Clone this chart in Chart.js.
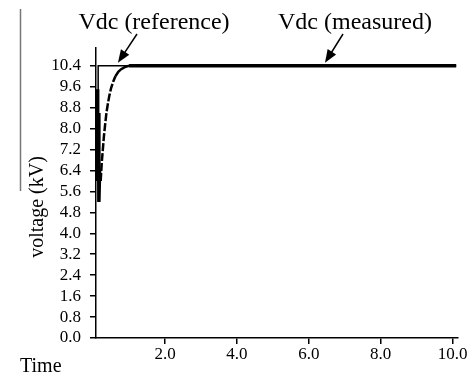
<!DOCTYPE html>
<html>
<head>
<meta charset="utf-8">
<script src="https://cdn.jsdelivr.net/npm/chart.js@4/dist/chart.umd.min.js"></script>
<style>
  body { margin: 0; background: #fff; }
  canvas { display: block; }
</style>
</head>
<body>
<canvas id="vdcChart" width="475" height="377"></canvas>
<script>
// Vdc reference step and measured response (kV vs time)
const refTime = [0.14, 0.14, 10.1];
const refVolt = [9.4, 10.4, 10.4];

const measTime = [0.12, 0.12, 0.13, 0.13, 0.15, 0.16, 0.18, 0.21, 0.24, 0.27, 0.30, 0.33, 0.37, 0.41, 0.45, 0.50, 0.56, 0.62, 0.70, 0.78, 0.88, 1.0, 10.1];
const measVolt = [9.5, 6.0, 9.2, 6.2, 8.6, 5.2, 6.4, 6.0, 6.7, 7.2, 7.7, 8.1, 8.6, 8.95, 9.25, 9.55, 9.8, 10.0, 10.17, 10.27, 10.35, 10.4, 10.4];

const yTicks = [0.0, 0.8, 1.6, 2.4, 3.2, 4.0, 4.8, 5.6, 6.4, 7.2, 8.0, 8.8, 9.6, 10.4];
const xTicks = [2.0, 4.0, 6.0, 8.0, 10.0];

const serif = 'Liberation Serif';

const toPoints = (xs, ys) => xs.map((x, i) => ({ x: x, y: ys[i] }));

function arrow(c, x1, y1, x2, y2) {
  const a = Math.atan2(y2 - y1, x2 - x1);
  const len = 13, half = 5;
  c.beginPath();
  c.moveTo(x1, y1);
  c.lineTo(x2 - Math.cos(a) * len * 0.8, y2 - Math.sin(a) * len * 0.8);
  c.stroke();
  c.beginPath();
  c.moveTo(x2, y2);
  c.lineTo(x2 - Math.cos(a) * len + Math.sin(a) * half, y2 - Math.sin(a) * len - Math.cos(a) * half);
  c.lineTo(x2 - Math.cos(a) * len - Math.sin(a) * half, y2 - Math.sin(a) * len + Math.cos(a) * half);
  c.closePath();
  c.fill();
}

const labels = {
  id: 'labels',
  afterDraw(chart) {
    const c = chart.ctx;
    const xs = chart.scales.x, ys = chart.scales.y;
    c.save();
    c.fillStyle = '#000';

    // stray rule at far left
    c.strokeStyle = '#777';
    c.lineWidth = 1.5;
    c.beginPath();
    c.moveTo(20.5, 9);
    c.lineTo(20.5, 191);
    c.stroke();

    c.strokeStyle = '#000';
    c.font = '20px "' + serif + '"';
    c.textAlign = 'left';
    c.textBaseline = 'alphabetic';
    c.fillText('Time', 20, 372);

    c.save();
    c.translate(38, 207);
    c.rotate(-Math.PI / 2);
    c.textAlign = 'center';
    c.textBaseline = 'middle';
    c.fillText('voltage (kV)', 0, 0);
    c.restore();

    c.font = '24px "' + serif + '"';
    c.textAlign = 'center';
    c.fillText('Vdc (reference)', 154, 29);
    c.fillText('Vdc (measured)', 355, 29);

    c.lineWidth = 1.5;
    const tipY = ys.getPixelForValue(10.4) - 3;
    arrow(c, 137, 34, xs.getPixelForValue(0.69), tipY);
    arrow(c, 343, 34, xs.getPixelForValue(6.45), tipY);
    c.restore();
  }
};

new Chart(document.getElementById('vdcChart'), {
  type: 'line',
  data: {
    datasets: [{
      label: 'Vdc (reference)',
      data: toPoints(refTime, refVolt),
      borderColor: '#000',
      borderWidth: 1.5,
      pointRadius: 0,
      tension: 0,
      fill: false
    }, {
      label: 'Vdc (measured)',
      data: toPoints(measTime, measVolt),
      borderColor: '#000',
      borderWidth: 3.5,
      pointRadius: 0,
      tension: 0,
      fill: false,
      segment: {
        borderWidth: s => (s.p0.parsed.x > 0.17 && s.p0.parsed.x < 1 ? 2.5 : 3.5),
        borderDash: s => (s.p0.parsed.x > 0.2 && s.p0.parsed.x < 0.6 ? [8, 2] : [])
      }
    }]
  },
  options: {
    responsive: false,
    animation: false,
    layout: { padding: { left: 0, top: 48, right: 17, bottom: 0 } },
    plugins: { legend: { display: false }, tooltip: { enabled: false } },
    scales: {
      x: {
        type: 'linear',
        min: 0.08,
        max: 10.15,
        afterBuildTicks: s => { s.ticks = xTicks.map(v => ({ value: v })); },
        afterFit: s => { s.height = 39; },
        border: { color: '#000', width: 1.5 },
        grid: { drawOnChartArea: false, color: '#000', lineWidth: 1.5, tickLength: 6 },
        ticks: {
          color: '#000',
          padding: 0,
          maxRotation: 0,
          autoSkip: false,
          font: { family: serif, size: 17 },
          callback: v => v.toFixed(1)
        }
      },
      y: {
        type: 'linear',
        min: 0,
        max: 11.08,
        afterBuildTicks: s => { s.ticks = yTicks.map(v => ({ value: v })); },
        afterFit: s => { s.width = 96; },
        border: { color: '#000', width: 1.5 },
        grid: { drawOnChartArea: false, color: '#000', lineWidth: 1.5, tickLength: 6 },
        ticks: {
          color: '#000',
          padding: 9,
          autoSkip: false,
          font: { family: serif, size: 17 },
          callback: v => v.toFixed(1)
        }
      }
    }
  },
  plugins: [labels]
});
</script>
</body>
</html>
